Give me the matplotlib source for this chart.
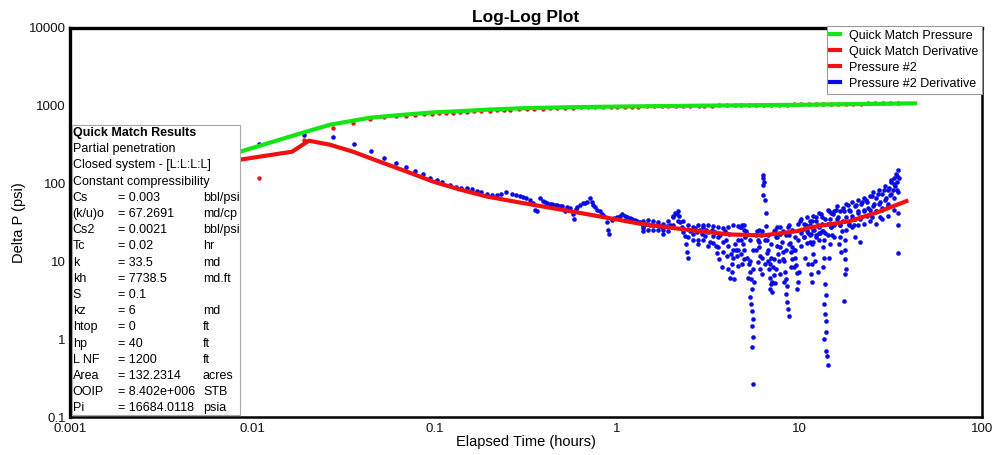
import matplotlib
matplotlib.use("Agg")
import matplotlib.pyplot as plt
from matplotlib.lines import Line2D
from matplotlib.patches import Rectangle

plt.rcParams['font.family'] = ['Liberation Sans', 'DejaVu Sans']

GREEN = '#14e614'
RED = '#f01010'
BLUE = '#0a0ae6'

# quick match model curves
qm_time = [0.007, 0.00855, 0.0189, 0.0266, 0.0441, 0.067, 0.1, 0.126, 0.2, 0.3, 0.5,
           1.0, 3.0, 10.0, 43.0]
qm_pressure = [225, 257, 451, 571, 702, 767, 825, 845, 895, 930, 955,
               978, 1005, 1030, 1076]

qm_deriv_time = [0.007, 0.00855, 0.0165, 0.0204, 0.0266, 0.0356, 0.050, 0.0706, 0.098,
                 0.137, 0.194, 0.294, 0.49, 0.805, 1.334, 2.35, 4.15, 6.3, 9.7, 11.4,
                 18.9, 26.5, 38.5]
qm_deriv = [190, 203, 257, 356, 316, 257, 191, 142, 106,
            84, 68, 57, 46.4, 37.8, 30.5, 25.7, 22.2, 21.6, 24.5, 27.3,
            33, 42.5, 59.5]

# measured pressure change
p2_time = [0.0109, 0.0192, 0.0277, 0.0356, 0.0441, 0.0527, 0.061, 0.0696, 0.078, 0.087,
           0.096, 0.105, 0.115, 0.126, 0.138, 0.150, 0.165, 0.180, 0.20, 0.22,
           0.24, 0.26, 0.29, 0.32, 0.35, 0.39, 0.43, 0.47, 0.52, 0.57,
           0.63, 0.69, 0.76, 0.84, 0.92, 1.0, 1.1, 1.2, 1.3, 1.45,
           1.6, 1.75, 1.9, 2.1, 2.3, 2.5, 2.8, 3.0, 3.3, 3.6,
           4.0, 4.4, 4.8, 5.3, 5.8, 6.4, 7.0, 7.7, 8.5, 9.3,
           10.2, 11.2, 12.3, 13.5, 14.8, 16.3, 17.9, 19.7, 21.6, 23.7,
           26.0, 28.6, 31.4, 34.5]
p2_pressure = [119, 367, 523, 605, 684, 718, 735, 750, 765, 778,
               790, 800, 810, 820, 830, 840, 850, 860, 870, 880,
               888, 895, 903, 910, 917, 923, 930, 936, 942, 948,
               953, 958, 963, 965, 967, 968, 971, 974, 977, 980,
               983, 986, 989, 992, 995, 998, 1001, 1004, 1007, 1010,
               1013, 1016, 1019, 1022, 1025, 1028, 1031, 1034, 1037, 1040,
               1043, 1046, 1049, 1052, 1055, 1058, 1062, 1066, 1070, 1074,
               1078, 1082, 1086, 1090]

# measured pressure derivative
p2_deriv_time = [
    0.0109, 0.0192, 0.0277, 0.036, 0.0445, 0.0527, 0.061, 0.0696, 0.078, 0.0863,
    0.094, 0.103, 0.110, 0.121, 0.131, 0.140, 0.150, 0.160, 0.170, 0.180,
    0.194, 0.205, 0.220, 0.232, 0.246, 0.264, 0.280, 0.293, 0.304, 0.316,
    0.333, 0.346, 0.355, 0.364, 0.378, 0.392, 0.402, 0.412, 0.428, 0.439,
    0.456, 0.468, 0.486, 0.498, 0.518, 0.531, 0.551, 0.572, 0.579, 0.597,
    0.605, 0.625, 0.649, 0.666, 0.683, 0.710, 0.728, 0.737, 0.756, 0.775,
    0.805, 0.826, 0.847, 0.880, 0.891, 0.902, 0.937, 0.961, 0.998, 1.036,
    1.063, 1.104, 1.132, 1.175, 1.205, 1.253, 1.284, 1.334,
    1.386, 1.386, 1.439, 1.513, 1.571, 1.653, 1.717, 1.761, 1.783, 1.876,
    1.947, 2.022, 2.074, 2.127, 2.181, 2.209, 2.265, 2.353, 2.383, 2.413,
    2.444, 2.506, 2.603, 2.669, 2.738, 2.773, 2.843, 2.916, 2.95, 3.028,
    3.07, 3.145, 3.226, 3.308, 3.35, 3.44, 3.48, 3.524, 3.57, 3.614,
    3.66, 3.753, 3.80, 3.90, 3.95, 4.0, 4.05, 4.1, 4.15, 4.20,
    4.26, 4.26, 4.31, 4.37, 4.42, 4.48, 4.53, 4.59, 4.59,
    4.71, 4.83, 4.95, 5.02, 4.89, 4.77, 4.83, 5.08, 5.28, 5.35,
    5.41, 5.48, 5.35, 5.41, 5.48, 5.55, 5.48, 5.55, 5.48, 5.55,
    5.84, 5.92, 5.99, 6.07, 5.92, 6.07, 6.15, 6.30, 6.30, 6.38,
    6.30, 6.30, 6.46, 6.55, 6.55, 6.63, 6.63, 6.71, 6.80, 6.88,
    6.97, 7.06, 7.15, 7.24, 7.33, 6.88, 7.33, 7.42, 7.52, 7.61,
    7.71, 7.81, 8.01, 8.11, 8.21, 8.32, 8.42, 8.53, 8.42, 8.53,
    8.64, 8.75, 8.64, 8.75, 8.86, 8.97, 9.08, 8.97, 9.31, 9.43,
    9.55, 9.67, 9.80, 9.67, 10.05, 10.3, 10.57, 10.84, 11.1, 11.4,
    11.7, 12.0, 12.3, 12.6, 12.9, 10.7, 11.1, 12.15, 12.6,
    11.4, 11.5, 11.7, 11.85, 11.7, 11.5, 11.7, 12.3, 12.8, 13.1,
    13.3, 13.4, 13.6, 13.4, 13.6, 13.4, 13.8, 14.0, 13.6, 13.8,
    14.0, 14.0, 13.6, 14.0, 14.1, 14.3, 14.5, 14.7, 14.9, 15.1,
    14.7, 14.5, 15.3, 15.9, 16.3, 16.6, 17.0, 16.5, 16.8, 17.5,
    17.7, 17.7, 17.7, 17.9, 17.7, 17.5, 18.4, 18.9, 19.3, 19.8,
    20.3, 20.9, 21.4, 22.0, 22.5, 20.1, 21.4, 18.6, 23.1, 23.7,
    24.3, 24.9, 25.6, 26.2, 26.9, 27.6, 28.3, 29.0, 29.8, 30.5,
    27.6, 24.9, 30.9, 31.3, 31.7, 32.5, 32.9, 33.3, 33.7, 34.1,
    34.6, 35.0, 34.6, 34.6, 34.6, 34.6,
    # late-time band, upper and lower edges
    1.386, 1.475, 1.571, 1.674, 1.783, 1.898, 2.022, 2.154, 2.294, 2.444,
    2.603, 2.773, 2.95, 3.145, 3.35, 3.57, 3.80, 4.05, 4.31, 4.59,
    1.386, 1.475, 1.571, 1.674, 1.783, 1.898, 2.022, 2.154, 2.294, 2.444,
    2.603, 2.773, 2.95, 3.145, 3.35, 3.57, 3.80, 4.05, 4.31, 4.59,
    4.77, 4.95, 5.14, 5.35, 5.55, 5.77, 5.99, 6.22, 6.46, 6.71,
    6.97, 7.24, 7.52, 7.81, 8.11, 8.42, 8.75, 9.08, 9.43, 9.80,
    4.77, 4.95, 5.14, 5.35, 5.55, 5.77, 5.99, 6.22, 6.46, 6.71,
    6.97, 7.24, 7.52, 7.81, 8.11, 8.42, 8.75, 9.08, 9.43, 9.80,
    4.95, 5.21, 5.62, 6.22, 6.88, 7.06, 7.42, 7.81, 8.21, 9.31, 9.92,
    10.17, 10.57, 10.98, 11.4, 11.85, 12.3, 12.8, 13.3, 13.8, 14.3,
    14.9, 15.5, 16.1, 16.6, 17.3, 17.9, 18.6, 19.3, 20.1, 20.9,
    21.7, 22.5, 23.4, 24.3, 25.2, 26.2, 27.2, 28.3, 29.4, 30.5,
    31.7, 32.9, 34.1,
    10.17, 10.57, 10.98, 11.4, 11.85, 12.3, 12.8, 13.3, 13.8, 14.3,
    14.9, 15.5, 16.1, 16.6, 17.3, 17.9, 18.6, 19.3, 20.1, 20.9,
    21.7, 22.5, 23.4, 24.3, 25.2, 26.2, 27.2, 28.3, 29.4, 30.5,
    31.7, 32.9, 34.1,
    10.17, 10.98, 11.85, 12.8, 14.3, 15.5, 16.6, 17.9, 19.3, 20.9,
    22.5, 24.3, 26.2, 28.3, 30.5, 32.9]
p2_deriv = [
    326, 425, 400, 326, 265, 215, 186, 165, 147, 134,
    119, 112, 106, 97, 91, 89, 89, 86, 81, 79,
    74, 72, 72, 74, 77, 74, 72, 70, 68, 66,
    62.4, 57, 46.4, 43.8, 66, 60.6, 58.8, 57.1, 55.4, 55.4,
    53.8, 53.8, 52.2, 52.2, 43.8, 50.7, 49.2, 40.1, 34.6, 47.8,
    50.7, 53.8, 57.1, 57.1, 58.8, 66.2, 58.8, 53.8, 50.7, 46.4,
    43.8, 40.1, 37.8, 31.7, 25.7, 22.2, 33.6, 35.6, 36.7, 38.9,
    40.1, 38.9, 36.7, 35.6, 34.6, 33.6, 32.6, 31.7,
    28.1, 24.3, 30.7, 29.8, 29.0, 29.0, 28.1, 27.3, 22.2, 28.1,
    29.8, 36.7, 41.3, 40.1, 37.8, 31.7, 27.3, 20.9, 16.5, 13.4,
    11.2, 24.3, 22.2, 26.5, 23.6, 19.1, 25.7, 22.2, 27.3, 20.9,
    25.0, 23.6, 17.5, 25.7, 20.9, 23.6, 15.6, 13.0, 20.3, 10.6,
    21.6, 8.4, 17.5, 24.3, 19.1, 11.6, 7.9, 22.2, 6.05, 12.3,
    7.2, 9.15, 14.2, 5.87, 16.5, 14.2, 11.6, 8.6, 19.1,
    27.3, 29.8, 25.7, 20.3, 16.5, 12.3, 9.15, 24.3, 9.15, 7.4,
    5.87, 4.37, 3.46, 2.81, 2.28, 1.80, 1.47, 1.06, 0.79, 0.265,
    24.3, 19.1, 15.1, 11.9, 9.7, 7.9, 21.6, 130, 119, 106,
    97, 72.3, 62.4, 42.5, 28.1, 19.1, 13.0, 10.0, 7.9, 6.2,
    5.07, 4.1, 8.4, 6.6, 5.2, 9.15, 25.7, 20.3, 16.0, 12.6,
    10.0, 22.2, 18.0, 13.4, 10.0, 7.4, 5.87, 4.8, 3.78, 2.98,
    2.42, 1.97, 27.3, 21.6, 17.0, 13.4, 10.6, 8.4, 14.2, 11.2,
    8.9, 7.0, 5.5, 4.37, 32.6, 25.7, 20.3, 29.0, 22.9, 18.0,
    32.6, 25.7, 20.3, 29.0, 22.9, 11.2, 9.15, 10.0, 7.4,
    29.8, 22.2, 16.5, 12.3, 9.15, 6.8, 5.5, 36.7, 22.9, 40.1,
    30.7, 24.3, 19.1, 15.1, 11.2, 8.4, 5.07, 3.67, 2.81, 2.09,
    1.70, 1.23, 1.0, 0.70, 0.60, 0.46, 43.8, 34.6, 27.3, 21.6,
    16.5, 11.2, 40.1, 46.4, 36.7, 29.0, 24.3, 16.5, 13.4, 43.8,
    19.1, 14.2, 10.6, 7.9, 6.8, 3.07, 53.8, 43.8, 34.6, 29.0,
    53.8, 43.8, 34.6, 58.8, 46.4, 20.3, 18.0, 29.8, 62.4, 49.2,
    40.1, 70.2, 55.4, 43.8, 74.5, 58.8, 46.4, 83.8, 66.2, 52.2,
    36.7, 36.7, 89, 72.3, 106, 83.8, 119, 94, 134, 106,
    151, 119, 79, 42.5, 29.8, 13.0,
    32.6, 33.6, 32.6, 31.7, 30.7, 32.6, 38.9, 43.8, 32.6, 29.0,
    27.3, 29.0, 29.8, 29.0, 28.1, 27.3, 26.5, 27.3, 29.0, 28.1,
    26.5, 25.7, 25.0, 25.0, 25.0, 24.3, 29.0, 32.6, 23.6, 20.3,
    19.1, 16.5, 19.1, 16.0, 17.0, 15.1, 13.4, 16.0, 11.2, 14.2,
    27.3, 29.0, 22.2, 19.1, 14.2, 21.6, 25.7, 24.3, 19.1, 21.6,
    16.5, 24.3, 27.3, 27.3, 24.3, 21.6, 29.0, 25.7, 20.3, 30.7,
    19.1, 14.2, 11.2, 10.0, 7.9, 14.2, 18.0, 11.2, 9.15, 14.2,
    11.2, 10.6, 20.3, 15.1, 10.6, 14.2, 16.5, 15.1, 14.2, 19.1,
    10.6, 6.2, 5.5, 6.8, 4.37, 5.5, 7.9, 6.8, 5.5, 8.4, 7.4,
    34.6, 30.7, 36.7, 32.6, 38.9, 32.6, 41.3, 36.7, 34.6, 46.4,
    41.3, 43.8, 52.2, 43.8, 49.2, 55.4, 46.4, 58.8, 52.2, 62.4,
    55.4, 66.2, 58.8, 70.2, 79, 66.2, 83.8, 74.5, 94, 83.8,
    112, 100, 126,
    22.9, 20.3, 24.3, 21.6, 25.7, 21.6, 27.3, 24.3, 22.9, 30.7,
    27.3, 29.0, 34.6, 29.0, 32.6, 36.7, 30.7, 38.9, 34.6, 41.3,
    36.7, 43.8, 38.9, 46.4, 52.2, 43.8, 55.4, 49.2, 62.4, 55.4,
    74.5, 66.2, 83.8,
    16.0, 17.0, 18.0, 19.1, 21.6, 20.3, 20.3, 25.7, 27.3, 29.0,
    30.7, 32.6, 30.7, 34.6, 38.9, 46.4]

results_title = 'Quick Match Results'
results_notes = ['Partial penetration', 'Closed system - [L:L:L:L]', 'Constant compressibility']
param_names = ['Cs', '(k/u)o', 'Cs2', 'Tc', 'k', 'kh', 'S', 'kz', 'htop', 'hp',
               'L NF', 'Area', 'OOIP', 'Pi']
param_values = ['0.003', '67.2691', '0.0021', '0.02', '33.5', '7738.5', '0.1', '6', '0',
                '40', '1200', '132.2314', '8.402e+006', '16684.0118']
param_units = ['bbl/psi', 'md/cp', 'bbl/psi', 'hr', 'md', 'md.ft', '', 'md', 'ft',
               'ft', 'ft', 'acres', 'STB', 'psia']

x_ticks = [0.001, 0.01, 0.1, 1, 10, 100]
x_ticklabels = ['0.001', '0.01', '0.1', '1', '10', '100']
y_ticks = [0.1, 1, 10, 100, 1000, 10000]
y_ticklabels = ['0.1', '1', '10', '100', '1000', '10000']

fig = plt.figure(figsize=(9.96, 4.55), dpi=100)
ax = fig.add_axes([70 / 996, 1 - 417 / 455, 912 / 996, 389 / 455])
ax.set_xscale('log')
ax.set_yscale('log')

ax.plot(p2_time, p2_pressure, 'o', color=RED, ms=3.2, mec='none', zorder=2)
ax.plot(p2_deriv_time, p2_deriv, 'o', color=BLUE, ms=3.3, mec='none', zorder=2)
ax.plot(qm_time, qm_pressure, '-', color=GREEN, lw=3.0, zorder=3)
ax.plot(qm_deriv_time, qm_deriv, '-', color=RED, lw=3.0, zorder=3)

ax.set_xlim(0.001, 100)
ax.set_ylim(0.1, 10000)
ax.set_xticks(x_ticks)
ax.set_xticklabels(x_ticklabels)
ax.set_yticks(y_ticks)
ax.set_yticklabels(y_ticklabels)
ax.minorticks_off()
ax.tick_params(length=0, labelsize=9.5, colors='#111111')
ax.tick_params(axis='x', pad=4)
ax.tick_params(axis='y', pad=3)

for side in ['left', 'top']:
    ax.spines[side].set_linewidth(2.4)
for side in ['right', 'bottom']:
    ax.spines[side].set_linewidth(1.8)

ax.set_title('Log-Log Plot', fontsize=12.5, fontweight='bold', pad=4)
ax.set_xlabel('Elapsed Time (hours)', fontsize=10.5, labelpad=0)
ax.set_ylabel('Delta P (psi)', fontsize=10.5, labelpad=2)

handles = [Line2D([], [], color=GREEN, lw=3),
           Line2D([], [], color=RED, lw=3),
           Line2D([], [], color=RED, lw=3),
           Line2D([], [], color=BLUE, lw=3)]
labels = ['Quick Match Pressure', 'Quick Match Derivative', 'Pressure #2',
          'Pressure #2 Derivative']
leg = ax.legend(handles, labels, loc='upper right', bbox_to_anchor=(1.0, 1.005),
                borderaxespad=0, fontsize=9, handlelength=0.8, handletextpad=0.7,
                labelspacing=0.32, borderpad=0.3, fancybox=False, framealpha=1)
leg.get_frame().set_edgecolor('#9a9a9a')
leg.get_frame().set_linewidth(0.8)
leg.set_zorder(6)

# results panel in the lower left corner
box_top = (417 - 125) / 389
ax.add_patch(Rectangle((0.002, 0.004), 0.184, box_top - 0.004, transform=ax.transAxes,
                       facecolor='white', edgecolor='#a8a8a8', lw=0.8, zorder=5))
line_h = 16.2 / 389
y0 = (417 - 133) / 389
ax.text(0.003, y0, results_title, transform=ax.transAxes, fontsize=9,
        fontweight='bold', va='center', zorder=6)
for i, note in enumerate(results_notes):
    ax.text(0.003, y0 - (i + 1) * line_h, note, transform=ax.transAxes,
            fontsize=9, va='center', zorder=6)
for i, (name, val, unit) in enumerate(zip(param_names, param_values, param_units)):
    yy = y0 - (i + 4) * line_h
    ax.text(0.003, yy, name, transform=ax.transAxes, fontsize=9, va='center', zorder=6)
    ax.text(0.0526, yy, '= ' + val, transform=ax.transAxes, fontsize=9, va='center', zorder=6)
    ax.text(0.1458, yy, unit, transform=ax.transAxes, fontsize=9, va='center', zorder=6)

fig.savefig('out.png', dpi=100)
